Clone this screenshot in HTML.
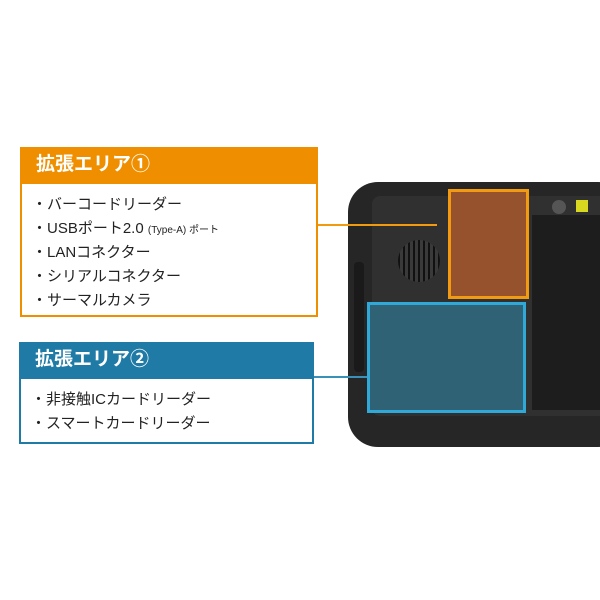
<!DOCTYPE html>
<html><head><meta charset="utf-8"><style>
body{margin:0;width:600px;height:600px;background:#fff;position:relative;overflow:hidden;font-family:"Liberation Sans","Noto Sans CJK JP",sans-serif}
.a{position:absolute}
.box{position:absolute;background:#fff;box-sizing:border-box}
.hd{color:#fff;font-weight:bold;font-size:19px;padding-left:16px;box-sizing:border-box}
.li{position:absolute;left:30px;font-size:15px;color:#222;white-space:nowrap}
</style></head><body>
<!-- tablet -->
<div class="a" style="left:348px;top:182px;width:280px;height:265px;background:#262626;border-radius:30px"></div>
<div class="a" style="left:372px;top:196px;width:250px;height:220px;background:#303030;border-radius:8px"></div>
<div class="a" style="left:532px;top:215px;width:80px;height:195px;background:#1d1d1d"></div>
<div class="a" style="left:398px;top:240px;width:42px;height:42px;border-radius:50%;background:repeating-linear-gradient(90deg,#111 0 2px,#3a3a3a 2px 5px)"></div>
<div class="a" style="left:354px;top:262px;width:10px;height:110px;background:#1a1a1a;border-radius:4px"></div>
<div class="a" style="left:576px;top:200px;width:12px;height:12px;background:#d8d820"></div>
<div class="a" style="left:552px;top:200px;width:14px;height:14px;border-radius:50%;background:#555"></div>
<div class="a" style="left:448px;top:189px;width:81px;height:110px;background:#96522c;border:3px solid #f29a10;box-sizing:border-box"></div>
<div class="a" style="left:367px;top:302px;width:159px;height:111px;background:#2e6274;border:3px solid #30a8d8;box-sizing:border-box"></div>
<!-- connectors -->
<div class="a" style="left:317px;top:224px;width:120px;height:2px;background:#f29a10"></div>
<div class="a" style="left:313px;top:376px;width:54px;height:2px;background:#3a90b8"></div>
<!-- box 1 -->
<div class="box" style="left:20px;top:147px;width:298px;height:170px;border:2px solid #ef8f00">
<div class="hd" style="background:#ef8f00;height:37px;line-height:36px;margin:-2px">拡張エリア①</div>
<div class="li" style="top:44px;left:10px">・バーコードリーダー</div>
<div class="li" style="top:68px;left:10px">・USBポート2.0 <span style="font-size:10px">(Type-A) ポート</span></div>
<div class="li" style="top:92px;left:10px">・LANコネクター</div>
<div class="li" style="top:116px;left:10px">・シリアルコネクター</div>
<div class="li" style="top:140px;left:10px">・サーマルカメラ</div>
</div>
<!-- box 2 -->
<div class="box" style="left:19px;top:342px;width:295px;height:102px;border:2px solid #1f7ba6">
<div class="hd" style="background:#1f7ba6;height:37px;line-height:36px;margin:-2px">拡張エリア②</div>
<div class="li" style="top:44px;left:10px">・非接触ICカードリーダー</div>
<div class="li" style="top:68px;left:10px">・スマートカードリーダー</div>
</div>
</body></html>
